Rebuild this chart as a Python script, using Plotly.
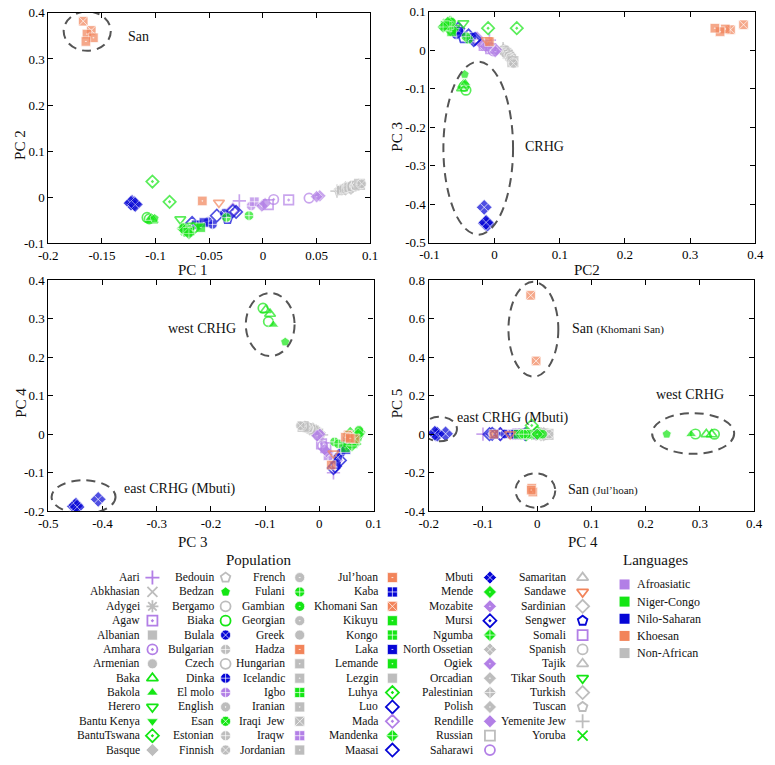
import plotly.graph_objects as go

# ============================ DATA ============================
# Legend order of populations (6 columns)
POPULATIONS = [
    "Aari", "Abkhasian", "Adygei", "Agaw", "Albanian", "Amhara", "Armenian", "Baka", "Bakola",
    "Herero", "Bantu Kenya", "BantuTswana", "Basque",
    "Bedouin", "Bedzan", "Bergamo", "Biaka", "Bulala", "Bulgarian", "Czech", "Dinka", "El molo",
    "English", "Esan", "Estonian", "Finnish",
    "French", "Fulani", "Gambian", "Georgian", "Greek", "Hadza", "Hungarian", "Icelandic", "Igbo",
    "Iranian", "Iraqi  Jew", "Iraqw", "Jordanian",
    "Jul\u2019hoan", "Kaba", "Khomani San", "Kikuyu", "Kongo", "Laka", "Lemande", "Lezgin", "Luhya",
    "Luo", "Mada", "Mandenka", "Maasai",
    "Mbuti", "Mende", "Mozabite", "Mursi", "Ngumba", "North Ossetian", "Ogiek", "Orcadian",
    "Palestinian", "Polish", "Rendille", "Russian", "Saharawi",
    "Samaritan", "Sandawe", "Sardinian", "Sengwer", "Somali", "Spanish", "Tajik", "Tikar South",
    "Turkish", "Tuscan", "Yemenite Jew", "Yoruba",
]
LANGUAGES = ["Afroasiatic", "Niger-Congo", "Nilo-Saharan", "Khoesan", "Non-African"]

# samples: (population, PC1, PC2, PC3, PC4, PC5)
AFROASIATIC = [
    ("Aari", -0.022, -0.008, 0.026, -0.100, 0.000),
    ("Mada", -0.028, -0.027, 0.030, -0.068, 0.000),
    ("El molo", -0.011, -0.019, 0.018, -0.050, 0.000),
    ("Iraqw", -0.008, -0.010, 0.016, -0.056, 0.001),
    ("Ogiek", -0.001, -0.019, 0.013, -0.045, 0.000),
    ("Rendille", 0.002, -0.014, 0.010, -0.040, 0.000),
    ("Somali", 0.005, -0.016, 0.012, -0.035, 0.000),
    ("Amhara", 0.010, -0.005, 0.006, -0.030, 0.000),
    ("Agaw", 0.024, -0.006, 0.004, -0.025, 0.000),
    ("Saharawi", 0.043, -0.002, -0.002, -0.003, 0.000),
    ("Mozabite", 0.053, 0.003, 0.001, 0.000, 0.000),
    ("Mozabite", 0.050, 0.001, -0.004, -0.004, 0.000),
]
NIGER_CONGO = [
    ("Biaka", -0.108, -0.044, -0.104, 0.327, 0.000),
    ("Biaka", -0.106, -0.047, -0.094, 0.292, 0.001),
    ("Baka", -0.104, -0.048, -0.091, 0.312, 0.000),
    ("Baka", -0.103, -0.050, -0.099, 0.322, -0.001),
    ("Bakola", -0.105, -0.045, -0.085, 0.284, 0.000),
    ("Bedzan", -0.101, -0.046, -0.063, 0.239, 0.000),
    ("BantuTswana", -0.103, 0.034, 0.057, 0.000, 0.010),
    ("BantuTswana", -0.087, -0.010, 0.057, -0.010, 0.045),
    ("Tikar South", -0.077, -0.048, 0.070, -0.010, 0.000),
    ("Herero", -0.066, -0.062, 0.058, -0.022, 0.000),
    ("Bantu Kenya", -0.060, -0.062, 0.050, -0.030, 0.000),
    ("Kikuyu", -0.058, -0.066, 0.048, -0.035, 0.000),
    ("Luhya", -0.065, -0.068, 0.055, -0.020, 0.000),
    ("Yoruba", -0.072, -0.072, 0.068, -0.015, 0.000),
    ("Esan", -0.073, -0.074, 0.070, -0.012, 0.000),
    ("Igbo", -0.071, -0.070, 0.066, -0.018, 0.000),
    ("Mandenka", -0.075, -0.068, 0.075, 0.005, 0.000),
    ("Gambian", -0.074, -0.066, 0.073, 0.010, 0.000),
    ("Mende", -0.073, -0.072, 0.072, 0.000, 0.000),
    ("Kongo", -0.068, -0.073, 0.062, -0.025, 0.000),
    ("Lemande", -0.070, -0.076, 0.064, -0.020, 0.000),
    ("Ngumba", -0.069, -0.079, 0.060, -0.030, 0.000),
    ("Fulani", -0.013, -0.040, 0.028, -0.020, 0.000),
    ("Fulani", -0.034, -0.044, 0.035, -0.025, 0.000),
]
NILO_SAHARAN = [
    ("Mbuti", -0.122, -0.011, -0.452, -0.187, 0.003),
    ("Mbuti", -0.120, -0.014, -0.449, -0.184, 0.000),
    ("Mbuti", -0.123, -0.013, -0.447, -0.189, 0.005),
    ("Mbuti", -0.119, -0.016, -0.408, -0.169, 0.002),
    ("Mursi", -0.066, -0.056, 0.056, -0.022, 0.000),
    ("Kaba", -0.062, -0.060, 0.052, -0.018, 0.001),
    ("Dinka", -0.051, -0.053, 0.046, -0.032, 0.000),
    ("Dinka", -0.047, -0.059, 0.040, -0.048, -0.002),
    ("Laka", -0.055, -0.055, 0.049, -0.040, 0.000),
    ("Luo", -0.043, -0.040, 0.038, -0.068, 0.000),
    ("Bulala", -0.036, -0.035, 0.034, -0.060, 0.001),
    ("Sengwer", -0.033, -0.048, 0.030, -0.078, 0.000),
    ("Maasai", -0.025, -0.032, 0.026, -0.088, 0.000),
    ("Maasai", -0.028, -0.030, 0.029, -0.083, 0.002),
]
KHOESAN = [
    ("Khomani San", -0.1675, 0.382, 0.066, -0.012, 0.720),
    ("Khomani San", -0.160, 0.362, 0.053, -0.002, 0.380),
    ("Jul\u2019hoan", -0.164, 0.354, 0.055, -0.010, -0.280),
    ("Jul\u2019hoan", -0.158, 0.346, 0.048, -0.008, -0.300),
    ("Jul\u2019hoan", -0.165, 0.338, 0.057, -0.011, -0.290),
    ("Hadza", -0.0565, -0.008, 0.022, -0.080, 0.000),
    ("Sandawe", -0.041, -0.012, 0.026, -0.050, 0.000),
]
NON_AFRICAN = [
    ("Yemenite Jew", 0.069, 0.013, 0.004, -0.002, 0.001),
    ("Bedouin", 0.071, 0.014, 0.002, 0.000, -0.001),
    ("Palestinian", 0.072, 0.016, 0.000, 0.002, 0.000),
    ("Jordanian", 0.073, 0.015, -0.001, 0.003, 0.001),
    ("Samaritan", 0.074, 0.017, -0.003, 0.004, 0.000),
    ("Iraqi  Jew", 0.076, 0.018, -0.005, 0.006, -0.001),
    ("Turkish", 0.077, 0.019, -0.006, 0.007, 0.000),
    ("Iranian", 0.078, 0.019, -0.007, 0.007, 0.000),
    ("Armenian", 0.078, 0.020, -0.008, 0.008, 0.001),
    ("Tajik", 0.079, 0.020, -0.009, 0.009, 0.000),
    ("Georgian", 0.079, 0.021, -0.010, 0.009, 0.000),
    ("Abkhasian", 0.080, 0.020, -0.010, 0.010, 0.000),
    ("Lezgin", 0.080, 0.021, -0.011, 0.011, 0.000),
    ("Adygei", 0.081, 0.022, -0.012, 0.010, -0.001),
    ("North Ossetian", 0.081, 0.022, -0.013, 0.011, 0.001),
    ("Sardinian", 0.082, 0.021, -0.012, 0.012, 0.000),
    ("Greek", 0.082, 0.022, -0.014, 0.012, 0.000),
    ("Tuscan", 0.083, 0.023, -0.015, 0.013, 0.000),
    ("Albanian", 0.083, 0.023, -0.016, 0.013, 0.000),
    ("Bergamo", 0.084, 0.024, -0.017, 0.014, 0.001),
    ("Spanish", 0.085, 0.024, -0.018, 0.015, 0.000),
    ("Bulgarian", 0.085, 0.024, -0.019, 0.015, 0.001),
    ("Basque", 0.086, 0.025, -0.021, 0.016, -0.001),
    ("French", 0.086, 0.025, -0.020, 0.016, 0.000),
    ("Hungarian", 0.087, 0.026, -0.022, 0.017, 0.000),
    ("Czech", 0.088, 0.026, -0.023, 0.018, 0.000),
    ("English", 0.088, 0.026, -0.024, 0.018, 0.000),
    ("Orcadian", 0.089, 0.027, -0.026, 0.019, 0.001),
    ("Polish", 0.089, 0.027, -0.027, 0.020, 0.000),
    ("Icelandic", 0.090, 0.027, -0.028, 0.019, 0.000),
    ("Russian", 0.090, 0.028, -0.030, 0.020, -0.001),
    ("Estonian", 0.091, 0.028, -0.032, 0.021, 0.000),
    ("Finnish", 0.092, 0.029, -0.035, 0.022, 0.000),
]
GROUP_SAMPLES = {
    "Non-African": NON_AFRICAN,
    "Afroasiatic": AFROASIATIC,
    "Nilo-Saharan": NILO_SAHARAN,
    "Niger-Congo": NIGER_CONGO,
    "Khoesan": KHOESAN,
}

# tick values / labels per panel
P1_X_TICKS = [-0.2, -0.15, -0.1, -0.05, 0, 0.05, 0.1]
P1_X_LABELS = ["-0.2", "-0.15", "-0.1", "-0.05", "0", "0.05", "0.1"]
P1_Y_TICKS = [-0.1, 0, 0.1, 0.2, 0.3, 0.4]
P1_Y_LABELS = ["-0.1", "0", "0.1", "0.2", "0.3", "0.4"]
P2_X_TICKS = [-0.1, 0, 0.1, 0.2, 0.3, 0.4]
P2_X_LABELS = ["-0.1", "0", "0.1", "0.2", "0.3", "0.4"]
P2_Y_TICKS = [-0.5, -0.4, -0.3, -0.2, -0.1, 0, 0.1]
P2_Y_LABELS = ["-0.5", "-0.4", "-0.3", "-0.2", "-0.1", "0", "0.1"]
P3_X_TICKS = [-0.5, -0.4, -0.3, -0.2, -0.1, 0, 0.1]
P3_X_LABELS = ["-0.5", "-0.4", "-0.3", "-0.2", "-0.1", "0", "0.1"]
P3_Y_TICKS = [-0.2, -0.1, 0, 0.1, 0.2, 0.3, 0.4]
P3_Y_LABELS = ["-0.2", "-0.1", "0", "0.1", "0.2", "0.3", "0.4"]
P4_X_TICKS = [-0.2, -0.1, 0, 0.1, 0.2, 0.3, 0.4]
P4_X_LABELS = ["-0.2", "-0.1", "0", "0.1", "0.2", "0.3", "0.4"]
P4_Y_TICKS = [-0.4, -0.2, 0, 0.2, 0.4, 0.6, 0.8]
P4_Y_LABELS = ["-0.4", "-0.2", "0", "0.2", "0.4", "0.6", "0.8"]

# ============================ STYLE ============================
FONT = "Liberation Serif, Times New Roman, serif"
W, H = 775, 765
LANG_COLOR = {
    "Afroasiatic": "#B27FE6",
    "Niger-Congo": "#14E614",
    "Nilo-Saharan": "#0606D6",
    "Khoesan": "#F2845A",
    "Non-African": "#BDBDBD",
}
POP_SYMBOL = {
    "Aari": "cross-thin-open", "Abkhasian": "x-thin-open", "Adygei": "asterisk-open",
    "Agaw": "square-open-dot", "Albanian": "square", "Amhara": "circle-open-dot",
    "Armenian": "circle", "Baka": "triangle-up-open", "Bakola": "triangle-up",
    "Herero": "triangle-down-open", "Bantu Kenya": "triangle-down", "BantuTswana": "diamond-open-dot",
    "Basque": "diamond", "Bedouin": "pentagon-open", "Bedzan": "pentagon", "Bergamo": "circle-open",
    "Biaka": "circle-open", "Bulala": "circle-x", "Bulgarian": "circle-cross", "Czech": "circle-open",
    "Dinka": "circle-cross", "El molo": "circle-cross", "English": "circle-dot", "Esan": "circle-x",
    "Estonian": "circle-cross", "Finnish": "circle-x", "French": "circle-dot", "Fulani": "circle-cross",
    "Gambian": "circle-dot", "Georgian": "circle-dot", "Greek": "circle", "Hadza": "square-dot",
    "Hungarian": "square-dot", "Icelandic": "square-dot", "Igbo": "square-cross", "Iranian": "square-dot",
    "Iraqi  Jew": "square-x", "Iraqw": "square-cross", "Jordanian": "square-dot",
    "Jul\u2019hoan": "square-dot", "Kaba": "square-cross", "Khomani San": "square-x",
    "Kikuyu": "square-dot", "Kongo": "square-cross", "Laka": "square-dot", "Lemande": "square-dot",
    "Lezgin": "square", "Luhya": "diamond-open-dot", "Luo": "diamond-open", "Mada": "diamond-open-dot",
    "Mandenka": "diamond-cross", "Maasai": "diamond-open", "Mbuti": "diamond-x", "Mende": "diamond-dot",
    "Mozabite": "diamond-dot", "Mursi": "diamond-open-dot", "Ngumba": "diamond-cross",
    "North Ossetian": "diamond-x", "Ogiek": "diamond-dot", "Orcadian": "diamond-dot",
    "Palestinian": "diamond-cross", "Polish": "diamond-dot", "Rendille": "diamond",
    "Russian": "square-open", "Saharawi": "circle-open", "Samaritan": "triangle-up-open",
    "Sandawe": "triangle-down-open", "Sardinian": "diamond-open", "Sengwer": "pentagon-open",
    "Somali": "square-open", "Spanish": "circle-open", "Tajik": "triangle-up-open",
    "Tikar South": "triangle-down-open", "Turkish": "diamond-open", "Tuscan": "pentagon-open",
    "Yemenite Jew": "cross-thin-open", "Yoruba": "x-thin-open",
}
POP_SIZE = {"Mbuti": 12}
POP_LANG = {}
for g, rows in GROUP_SAMPLES.items():
    for r in rows:
        POP_LANG[r[0]] = g


def is_open(sym):
    return "open" in sym


# pixel boxes of the four panels: (left, right, top, bottom)
BOX = {
    1: (39.3, 369.3, 6.0, 241.0),
    2: (430.0, 764.0, 4.7, 240.5),
    3: (39.3, 372.7, 278.4, 514.4),
    4: (429.3, 762.7, 278.4, 514.4),
}
PANEL_PCS = {1: (1, 2), 2: (2, 3), 3: (3, 4), 4: (4, 5)}
PANEL_RANGES = {
    1: ([-0.2, 0.1], [-0.1, 0.4]),
    2: ([-0.1, 0.4], [-0.5, 0.1]),
    3: ([-0.5, 0.1], [-0.2, 0.4]),
    4: ([-0.2, 0.4], [-0.4, 0.8]),
}
PANEL_TICKS = {
    1: (P1_X_TICKS, P1_X_LABELS, P1_Y_TICKS, P1_Y_LABELS),
    2: (P2_X_TICKS, P2_X_LABELS, P2_Y_TICKS, P2_Y_LABELS),
    3: (P3_X_TICKS, P3_X_LABELS, P3_Y_TICKS, P3_Y_LABELS),
    4: (P4_X_TICKS, P4_X_LABELS, P4_Y_TICKS, P4_Y_LABELS),
}

fig = go.Figure()


def axname(i, kind):
    return kind + ("" if i == 1 else str(i))


for p in (1, 2, 3, 4):
    a, b = PANEL_PCS[p]
    xs, ys, syms, cols, lws, lcs, szs = [], [], [], [], [], [], []
    for g, rows in GROUP_SAMPLES.items():
        for r in rows:
            xs.append(r[a])
            ys.append(r[b])
            s = POP_SYMBOL[r[0]]
            syms.append(s)
            cols.append(LANG_COLOR[g])
            lws.append(1.7 if is_open(s) else 0.7)
            lcs.append(LANG_COLOR[g] if is_open(s) else "white")
            szs.append(POP_SIZE.get(r[0], 9.5))
    fig.add_trace(go.Scatter(
        x=xs, y=ys, mode="markers", xaxis=axname(p, "x"), yaxis=axname(p, "y"),
        marker=dict(symbol=syms, color=cols, size=szs, line=dict(width=lws, color=lcs)),
        showlegend=False, hoverinfo="skip", cliponaxis=True,
    ))

# ---------- legend (drawn on a full-figure pixel axis) ----------
COL_TEXT_END = [135, 211, 284, 379, 477, 572]
COL_MARK_X = [146, 221, 297, 392, 492, 587]
ROW0, ROWSTEP = 582.0, 14.66
LEG_FONT = 11.6
annotations = []
lx, ly, lsym, lcol, llw, llc = [], [], [], [], [], []
for i, name in enumerate(POPULATIONS):
    c, r = divmod(i, 13)
    yy = ROW0 + r * ROWSTEP
    s = POP_SYMBOL[name]
    col = LANG_COLOR[POP_LANG[name]]
    lx.append(COL_MARK_X[c]); ly.append(yy); lsym.append(s); lcol.append(col)
    llw.append(1.8 if is_open(s) else 0.7)
    llc.append(col if is_open(s) else "white")
    annotations.append(dict(x=COL_TEXT_END[c] / W, y=1 - yy / H, xref="paper", yref="paper",
                            text=name, showarrow=False, xanchor="right", yanchor="middle",
                            font=dict(family=FONT, size=LEG_FONT, color="#111")))
for k, lang in enumerate(LANGUAGES):
    yy = 589 + k * 17.5
    lx.append(630); ly.append(yy); lsym.append("square"); lcol.append(LANG_COLOR[lang])
    llw.append(0); llc.append(LANG_COLOR[lang])
    annotations.append(dict(x=641 / W, y=1 - yy / H, xref="paper", yref="paper",
                            text=lang, showarrow=False, xanchor="left", yanchor="middle",
                            font=dict(family=FONT, size=12, color="#111")))
fig.add_trace(go.Scatter(
    x=lx, y=ly, mode="markers", xaxis="x5", yaxis="y5",
    marker=dict(symbol=lsym, color=lcol, size=10, line=dict(width=llw, color=llc)),
    showlegend=False, hoverinfo="skip", cliponaxis=False,
))
annotations.append(dict(x=255 / W, y=1 - 564 / H, xref="paper", yref="paper", text="Population",
                        showarrow=False, xanchor="center", yanchor="middle",
                        font=dict(family=FONT, size=15, color="#111")))
annotations.append(dict(x=626 / W, y=1 - 564 / H, xref="paper", yref="paper", text="Languages",
                        showarrow=False, xanchor="left", yanchor="middle",
                        font=dict(family=FONT, size=15, color="#111")))

# axis titles
AX_TITLES = [
    ("PC 1", 188, 268, 0), ("PC 2", 11, 141, -90),
    ("PC2", 592, 268, 0), ("PC 3", 397, 132, -90),
    ("PC 3", 188, 546, 0), ("PC 4", 11, 404, -90),
    ("PC 4", 587, 546, 0), ("PC 5", 397, 404, -90),
]
for t, px, py, ang in AX_TITLES:
    annotations.append(dict(x=px / W, y=1 - py / H, xref="paper", yref="paper", text=t,
                            showarrow=False, xanchor="center", yanchor="middle", textangle=ang,
                            font=dict(family=FONT, size=15, color="#111")))

# cluster labels (data coordinates)
SMALL = "<span style='font-size:11px'>"
CLUSTER_LABELS = [
    (1, "San", -0.128, 0.348, "left"),
    (2, "CRHG", 0.043, -0.25, "left"),
    (3, "west CRHG", -0.151, 0.274, "right"),
    (3, "east CRHG (Mbuti)", -0.364, -0.141, "left"),
    (4, "San " + SMALL + "(Khomani San)</span>", 0.0605, 0.546, "left"),
    (4, "east CRHG (Mbuti)", -0.151, 0.083, "left"),
    (4, "west CRHG", 0.215, 0.207, "left"),
    (4, "San " + SMALL + "(Jul\u2019hoan)</span>", 0.053, -0.288, "left"),
]
for p, t, x, y, anc in CLUSTER_LABELS:
    annotations.append(dict(x=x, y=y, xref=axname(p, "x"), yref=axname(p, "y"), text=t,
                            showarrow=False, xanchor=anc, yanchor="middle",
                            font=dict(family=FONT, size=14, color="#111")))

ELLIPSES = [
    (1, -0.1857, -0.1418, 0.3176, 0.403),
    (2, -0.0786, 0.0283, -0.479, -0.030),
    (3, -0.1357, -0.0457, 0.2026, 0.366),
    (3, -0.494, -0.376, -0.206, -0.1195),
    (4, -0.053, 0.039, 0.298, 0.79),
    (4, -0.212, -0.148, -0.037, 0.09),
    (4, 0.212, 0.3634, -0.102, 0.109),
    (4, -0.040, 0.0334, -0.381, -0.203),
]
shapes = []
for p, x0, x1, y0, y1 in ELLIPSES:
    shapes.append(dict(type="circle", xref=axname(p, "x"), yref=axname(p, "y"),
                       x0=x0, x1=x1, y0=y0, y1=y1,
                       line=dict(color="#555555", width=2, dash="9px,6px")))

layout = dict(
    width=W, height=H, margin=dict(l=0, r=0, t=0, b=0),
    paper_bgcolor="white", plot_bgcolor="rgba(0,0,0,0)",
    showlegend=False, annotations=annotations, shapes=shapes,
    font=dict(family=FONT, size=13, color="black"),
)
for p in (1, 2, 3, 4):
    l, r, t, b = BOX[p]
    xr, yr = PANEL_RANGES[p]
    xt, xl, yt, yl = PANEL_TICKS[p]
    common = dict(ticks="inside", ticklen=5, tickwidth=1, tickcolor="black",
                  showline=True, linecolor="black", linewidth=1.2, mirror="ticks",
                  showgrid=False, zeroline=False, fixedrange=True,
                  tickfont=dict(family=FONT, size=13, color="black"))
    layout[("xaxis" if p == 1 else "xaxis%d" % p)] = dict(
        domain=[l / W, r / W], range=xr, tickvals=xt, ticktext=xl,
        anchor=axname(p, "y"), **common)
    layout[("yaxis" if p == 1 else "yaxis%d" % p)] = dict(
        domain=[1 - b / H, 1 - t / H], range=yr, tickvals=yt, ticktext=yl,
        anchor=axname(p, "x"), **common)
layout["xaxis5"] = dict(domain=[0, 1], range=[0, W], visible=False, fixedrange=True, anchor="y5")
layout["yaxis5"] = dict(domain=[0, 1], range=[H, 0], visible=False, fixedrange=True, anchor="x5")
fig.update_layout(**layout)

fig.write_html("out.html", config={"displayModeBar": False},
               post_script="document.body.style.margin='0';")
